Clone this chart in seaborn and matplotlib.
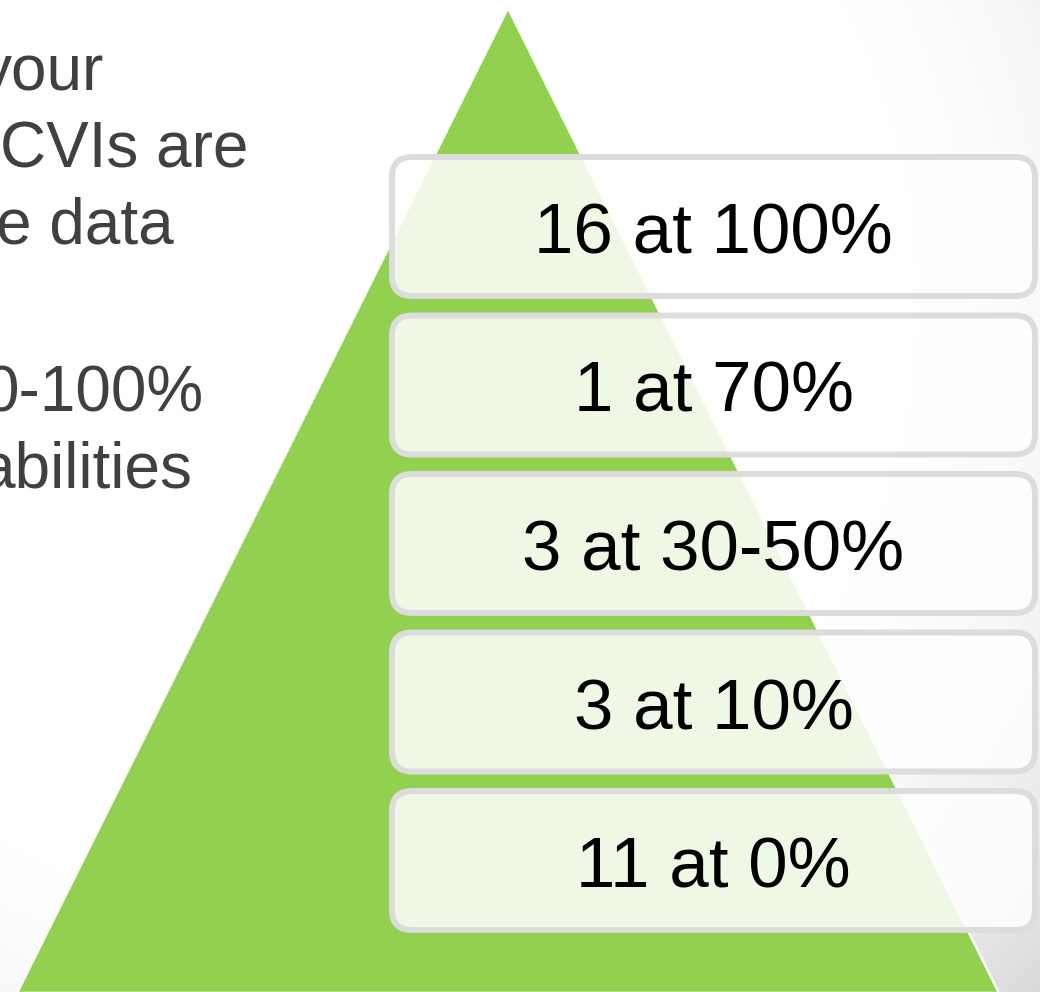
import numpy as np
import matplotlib
matplotlib.use("Agg")
import matplotlib.pyplot as plt
from matplotlib.patches import Polygon, FancyBboxPatch
import seaborn as sns

# ---- data ----
counts = [16, 1, 3, 3, 11]
levels = ["100%", "70%", "30-50%", "10%", "0%"]
left_lines = ["your", "CVIs are", "e data", "0-100%", "abilities"]

sns.set_theme(style="white")
plt.rcParams["font.family"] = ["Liberation Sans", "DejaVu Sans"]

W, H = 1040, 992
fig = plt.figure(figsize=(W / 100, H / 100), dpi=100)
ax = fig.add_axes([0, 0, 1, 1])
ax.set_xlim(0, W)
ax.set_ylim(H, 0)
ax.axis("off")

# background: white with soft grey vignette toward bottom-right
yy, xx = np.mgrid[0:H, 0:W]
r = np.hypot(xx - 300, yy - 300)
shade = 1 - 6.8e-7 * np.clip(r - 540, 0, None) ** 2
ax.imshow(shade, cmap="gray", vmin=0, vmax=1, extent=[0, W, H, 0],
          zorder=0, aspect="auto", interpolation="bilinear")

# pyramid
green = "#92D050"
tri = Polygon([(508, 8), (17, 993), (999, 993)], closed=True,
              facecolor=green, edgecolor="white", lw=1.8, zorder=1)
ax.add_patch(tri)

# boxes
x0, x1 = 392, 1035
top0, pitch, bh = 157, 158.5, 139
for i, (c, lv) in enumerate(zip(counts, levels)):
    top = top0 + i * pitch
    box = FancyBboxPatch((x0, top), x1 - x0, bh,
                         boxstyle="round,pad=0,rounding_size=20",
                         facecolor=(1, 1, 1, 0.86), edgecolor="#DCDCDC",
                         lw=4.3, zorder=2)
    ax.add_patch(box)
    ax.text((x0 + x1) / 2, top + bh / 2 + 27, f"{c} at {lv}",
            ha="center", va="baseline", fontsize=51, color="black", zorder=3)

# left-hand text (cut off at the figure edge, as in the reference)
left_x = [-20, 0, -4, -16, -21]
left_base = [90, 167, 243, 412, 487]
for t, lx, by in zip(left_lines, left_x, left_base):
    ax.text(lx, by, t, ha="left", va="baseline", fontsize=46,
            color="#404040", zorder=3)

fig.savefig("out.png", dpi=100)
